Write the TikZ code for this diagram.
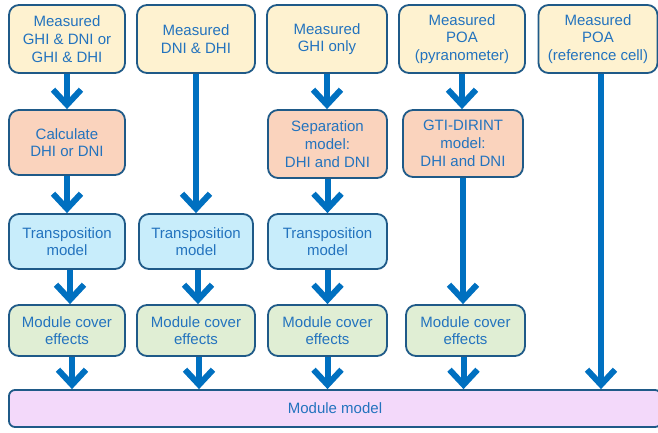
\documentclass[tikz,border=0pt]{standalone}
\usepackage{fontspec}
\setmainfont{Liberation Sans}
\usetikzlibrary{arrows.meta}
\definecolor{bordc}{HTML}{1F5A88}
\definecolor{txtc}{HTML}{2373BE}
\definecolor{arrc}{HTML}{0070C0}
\definecolor{fyel}{HTML}{FEF2D0}
\definecolor{fpea}{HTML}{FAD3BD}
\definecolor{fblu}{HTML}{C8EDFB}
\definecolor{fgrn}{HTML}{E0EED4}
\definecolor{fpnk}{HTML}{F3D9FA}
\tikzset{
  box/.style={draw=bordc, line width=1.8pt, rounded corners=10pt, align=center,
    text=txtc, font=\fontsize{15}{17.7}\selectfont, inner sep=0pt},
  ybox/.style={box, fill=fyel},
  pbox/.style={box, fill=fpea},
  bbox/.style={box, fill=fblu},
  gbox/.style={box, fill=fgrn},
  mbox/.style={box, fill=fpnk, rounded corners=6pt},
  flow/.style={draw=arrc, line width=6pt, -{Straight Barb[length=15pt, width=28pt]}},
}
\begin{document}
\begin{tikzpicture}[x=1pt,y=-1pt]
\useasboundingbox (0,0) rectangle (658,432);
% column 1
\node[ybox, minimum width=116pt, minimum height=68pt] (t1) at (67,39) {Measured\\GHI \& DNI or\\GHI \& DHI};
\node[pbox, minimum width=116pt, minimum height=65pt] (c1) at (67,142.5) {Calculate\\DHI or DNI};
\node[bbox, minimum width=116pt, minimum height=55pt] (r1) at (67,241.5) {Transposition\\model};
\node[gbox, minimum width=116pt, minimum height=51pt] (m1) at (67,330.5) {Module cover\\effects};
% column 2
\node[ybox, minimum width=118pt, minimum height=68pt] (t2) at (196,39) {Measured\\DNI \& DHI};
\node[bbox, minimum width=114pt, minimum height=55pt] (r2) at (196,241.5) {Transposition\\model};
\node[gbox, minimum width=118pt, minimum height=51pt] (m2) at (196,330.5) {Module cover\\effects};
% column 3
\node[ybox, minimum width=120pt, minimum height=68pt] (t3) at (327,39) {Measured\\GHI only};
\node[pbox, minimum width=119pt, minimum height=68pt] (c3) at (327.5,144) {Separation\\model:\\DHI and DNI};
\node[bbox, minimum width=119pt, minimum height=55pt] (r3) at (327.5,241.5) {Transposition\\model};
\node[gbox, minimum width=119pt, minimum height=51pt] (m3) at (327.5,330.5) {Module cover\\effects};
% column 4
\node[ybox, minimum width=126pt, minimum height=68pt] (t4) at (462,39) {Measured\\POA\\(pyranometer)};
\node[pbox, minimum width=120pt, minimum height=67pt] (c4) at (463,143.5) {GTI-DIRINT\\model:\\DHI and DNI};
\node[gbox, minimum width=119pt, minimum height=51pt] (m4) at (465.5,330.5) {Module cover\\effects};
% column 5
\node[ybox, minimum width=119pt, minimum height=68pt] (t5) at (598,39) {Measured\\POA\\(reference cell)};
% module model
\node[mbox, minimum width=652pt, minimum height=37pt] (mm) at (335,408.5) {Module model};
% arrows
\draw[flow] (t1.south) -- (t1.south |- c1.north);
\draw[flow] (c1.south) -- (c1.south |- r1.north);
\draw[flow] ([xshift=3pt]r1.south) -- ([xshift=3pt]r1.south |- m1.north);
\draw[flow] ([xshift=5pt]m1.south) -- ([xshift=5pt]m1.south |- mm.north);
\draw[flow] (t2.south) -- (t2.south |- r2.north);
\draw[flow] ([xshift=2pt]r2.south) -- ([xshift=2pt]r2.south |- m2.north);
\draw[flow] ([xshift=3pt]m2.south) -- ([xshift=3pt]m2.south |- mm.north);
\draw[flow] (t3.south) -- (t3.south |- c3.north);
\draw[flow] (c3.south) -- (c3.south |- r3.north);
\draw[flow] (r3.south) -- (r3.south |- m3.north);
\draw[flow] (m3.south) -- (m3.south |- mm.north);
\draw[flow] (c4.south) -- (c4.south |- m4.north);
\draw[flow] (t4.south) -- (t4.south |- c4.north);
\draw[flow] ([xshift=-2pt]m4.south) -- ([xshift=-2pt]m4.south |- mm.north);
\draw[flow] ([xshift=3pt]t5.south) -- ([xshift=3pt]t5.south |- mm.north);
\end{tikzpicture}
\end{document}
